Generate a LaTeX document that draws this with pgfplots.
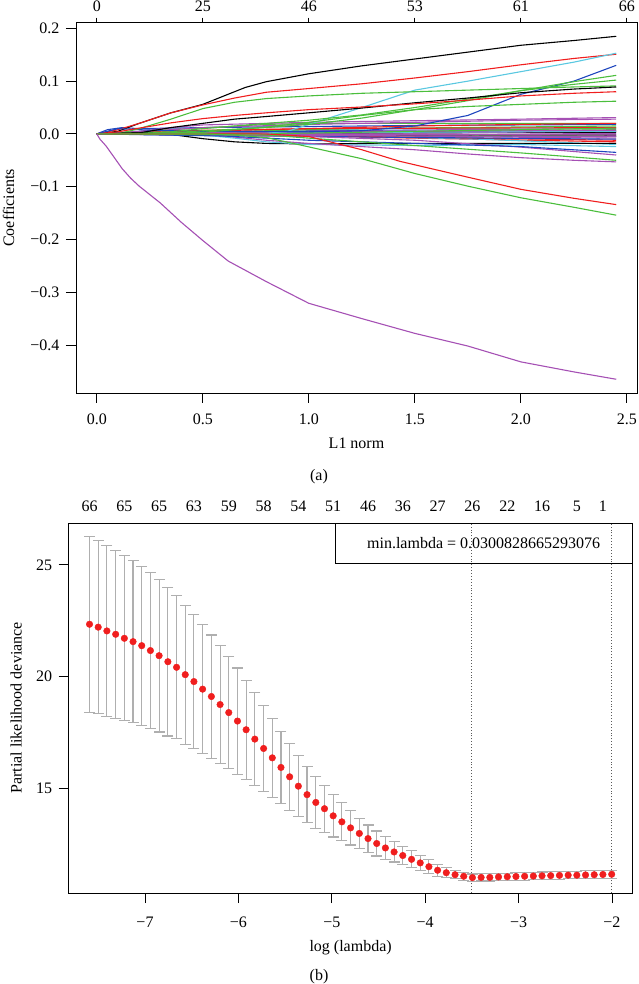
\documentclass[border=0pt]{standalone}
\usepackage{fontspec}
\setmainfont{Liberation Serif}
\usepackage{pgfplots}
\pgfplotsset{compat=1.18}
\usepackage{pgfplotstable}

\definecolor{rblack}{RGB}{0,0,0}
\definecolor{rred}{RGB}{240,30,30}
\definecolor{rgreen}{RGB}{75,190,60}
\definecolor{rblue}{RGB}{30,70,190}
\definecolor{rcyan}{RGB}{90,200,225}
\definecolor{rpurple}{RGB}{165,80,180}
\definecolor{dgrey}{RGB}{175,175,175}
\definecolor{dotgrey}{RGB}{90,90,90}

\pgfplotstableread{
x m e
-7.594 22.34 3.95
-7.501 22.21 3.88
-7.408 22.04 3.82
-7.314 21.89 3.76
-7.221 21.71 3.70
-7.128 21.56 3.63
-7.035 21.38 3.56
-6.942 21.16 3.49
-6.849 20.93 3.42
-6.755 20.66 3.33
-6.662 20.41 3.20
-6.569 20.08 3.12
-6.476 19.77 3.00
-6.383 19.43 2.89
-6.289 19.10 2.76
-6.196 18.74 2.64
-6.103 18.38 2.51
-6.010 18.00 2.38
-5.917 17.61 2.22
-5.824 17.19 2.07
-5.730 16.77 1.92
-5.637 16.35 1.77
-5.544 15.92 1.61
-5.451 15.50 1.50
-5.358 15.08 1.37
-5.265 14.70 1.26
-5.171 14.35 1.15
-5.078 14.07 1.05
-4.985 13.75 0.95
-4.892 13.48 0.85
-4.799 13.21 0.77
-4.705 12.96 0.69
-4.612 12.73 0.61
-4.519 12.51 0.56
-4.426 12.31 0.50
-4.333 12.13 0.45
-4.240 11.97 0.42
-4.146 11.80 0.38
-4.053 11.64 0.34
-3.960 11.47 0.31
-3.867 11.31 0.27
-3.774 11.20 0.22
-3.680 11.11 0.19
-3.587 11.04 0.17
-3.494 10.98 0.16
-3.401 10.99 0.16
-3.308 10.99 0.16
-3.215 11.01 0.16
-3.121 11.02 0.16
-3.028 11.03 0.16
-2.935 11.04 0.17
-2.842 11.05 0.17
-2.749 11.06 0.17
-2.656 11.07 0.17
-2.562 11.08 0.17
-2.469 11.09 0.17
-2.376 11.09 0.17
-2.283 11.10 0.18
-2.190 11.11 0.18
-2.097 11.12 0.18
-2.003 11.13 0.18
}\cvtable

\pgfplotsset{
  rstyle/.style={scale only axis, axis line style={line width=0.9pt},
    tick style={line width=0.9pt, black}, major tick length=10pt, tick align=outside,
    font=\fontsize{16}{19}\selectfont, yticklabel style={xshift=-3pt}},
  cK/.style={rblack, line width=1.1pt, no marks},
  cR/.style={rred, line width=1.1pt, no marks},
  cG/.style={rgreen, line width=1.1pt, no marks},
  cB/.style={rblue, line width=1.1pt, no marks},
  cC/.style={rcyan, line width=1.1pt, no marks},
  cP/.style={rpurple, line width=1.1pt, no marks},
}

\begin{document}
\begin{tikzpicture}
\useasboundingbox (0pt,0pt) rectangle (638pt,984pt);

% ---------------- panel (a) ----------------
\begin{axis}[rstyle, at={(76pt,591pt)}, anchor=south west, width=561pt, height=370.4pt,
  xmin=-0.098, xmax=2.548, ymin=-0.491, ymax=0.211,
  xtick={0,0.5,1,1.5,2,2.5}, xticklabels={0.0,0.5,1.0,1.5,2.0,2.5},
  xticklabel style={yshift=-7pt},
  ytick={-0.4,-0.3,-0.2,-0.1,0,0.1,0.2},
  yticklabels={−0.4,−0.3,−0.2,−0.1,0.0,0.1,0.2},
  xtick pos=lower, ytick pos=left,
  xlabel={L1 norm}, ylabel={Coefficients},
  every axis x label/.style={at={(axis description cs:0.5,-0.135)}, anchor=center},
  every axis y label/.style={at={(axis description cs:-0.12,0.5)}, anchor=center, rotate=90},
]
% near-zero cluster
\addplot[cP] coordinates {(0,0)(0.35,0.002)(1,0.006)(2,0.009)(2.45,0.010)};
\addplot[cC] coordinates {(0,0)(0.5,0.003)(1,0.008)(1.5,0.010)(2.45,0.012)};
\addplot[cG] coordinates {(0,0)(0.6,0.004)(1.2,0.010)(2.45,0.015)};
\addplot[cB] coordinates {(0,0)(0.4,0.003)(1,0.005)(2.45,0.005)};
\addplot[cR] coordinates {(0,0)(0.8,-0.002)(1.5,-0.008)(2.45,-0.015)};
\addplot[cK] coordinates {(0,0)(1.0,0.000)(1.5,-0.003)(2.45,-0.005)};
\addplot[cP] coordinates {(0,0)(0.9,-0.002)(2.45,-0.008)};
\addplot[cG] coordinates {(0,0)(1.0,0.002)(2.45,0.008)};
\addplot[cC] coordinates {(0,0)(0.5,-0.001)(1.2,-0.004)(1.8,-0.010)(2.45,-0.020)};
\addplot[cR] coordinates {(0,0)(1.1,-0.004)(2.45,-0.012)};
\addplot[cB] coordinates {(0,0)(1.3,-0.006)(2.45,-0.010)};
\addplot[cP] coordinates {(0,0)(0.6,0.001)(2.45,0.004)};
\addplot[cK] coordinates {(0,0)(1.4,0.002)(2.45,0.003)};
\addplot[cG] coordinates {(0,0)(1.6,-0.002)(2.45,-0.004)};
\addplot[cR] coordinates {(0,0)(0.35,0.006)(1,0.010)(2.45,0.012)};
\addplot[cP] coordinates {(0,0)(1.7,0.002)(2.45,0.006)};
\addplot[cC] coordinates {(0,0)(0.8,0.002)(2.45,0.005)};
\addplot[cK] coordinates {(0,0)(1.2,-0.001)(2.45,-0.002)};
\addplot[cP] coordinates {(0,0)(1.5,-0.001)(2.45,-0.002)};
\addplot[cP] coordinates {(0,0)(1.8,-0.001)(2.45,0.001)};
\addplot[cP] coordinates {(0,0)(0.7,0.003)(2.45,0.007)};
\addplot[cP] coordinates {(0,0)(1.0,-0.003)(2.45,-0.005)};
\addplot[cG] coordinates {(0,0)(0.9,0.001)(2.45,0.011)};
\addplot[cB] coordinates {(0,0)(0.05,0.008)(0.12,0.012)(0.2,0.010)(0.5,0.012)(1,0.014)(1.5,0.016)(2.45,0.018)};
\addplot[cG] coordinates {(0,0)(0.35,0.008)(0.8,0.018)(1.0,0.020)(1.5,0.020)(2.0,0.020)(2.45,0.020)};
\addplot[cR] coordinates {(0,0)(0.35,0.004)(1.0,0.010)(1.5,0.015)(2.0,0.018)(2.45,0.020)};
\addplot[cP] coordinates {(0,0)(0.2,0.005)(0.35,0.012)(0.5,0.017)(1.0,0.022)(1.5,0.025)(2.0,0.028)(2.45,0.031)};
\addplot[cP] coordinates {(0,0)(0.2,0.004)(0.5,0.012)(1.0,0.018)(1.5,0.022)(2.0,0.026)(2.45,0.028)};
% positive paths
\addplot[cK] coordinates {(0,0)(0.1,0.005)(0.2,0.020)(0.35,0.040)(0.5,0.056)(0.6,0.072)(0.7,0.088)(0.8,0.099)(1.0,0.114)(1.25,0.129)(1.5,0.142)(1.75,0.155)(2.0,0.168)(2.25,0.177)(2.45,0.185)};
\addplot[cR] coordinates {(0,0)(0.1,0.008)(0.2,0.020)(0.35,0.040)(0.5,0.055)(0.65,0.068)(0.8,0.079)(1.0,0.086)(1.25,0.095)(1.5,0.106)(1.75,0.118)(2.0,0.131)(2.25,0.143)(2.45,0.151)};
\addplot[cC] coordinates {(0,0)(0.5,0.000)(0.6,-0.003)(0.75,-0.001)(0.9,0.005)(1.0,0.018)(1.25,0.050)(1.5,0.083)(1.75,0.100)(2.0,0.118)(2.25,0.136)(2.45,0.153)};
\addplot[cB] coordinates {(0,0)(0.1,0.010)(0.2,0.008)(0.35,0.006)(0.5,0.005)(1.0,0.004)(1.25,0.006)(1.5,0.015)(1.75,0.035)(2.0,0.075)(2.25,0.100)(2.45,0.130)};
\addplot[cG] coordinates {(0,0)(0.1,0.000)(0.2,0.010)(0.35,0.028)(0.5,0.048)(0.65,0.060)(0.8,0.067)(1.0,0.072)(1.25,0.077)(1.5,0.080)(1.75,0.083)(2.0,0.086)(2.25,0.089)(2.45,0.091)};
\addplot[cG] coordinates {(0,0)(0.35,0.002)(0.5,0.006)(0.8,0.012)(1.0,0.018)(1.25,0.030)(1.5,0.046)(1.75,0.063)(2.0,0.082)(2.25,0.099)(2.45,0.111)};
\addplot[cG] coordinates {(0,0)(0.35,0.004)(0.5,0.010)(0.8,0.020)(1.0,0.026)(1.25,0.036)(1.5,0.050)(1.75,0.066)(2.0,0.082)(2.25,0.094)(2.45,0.102)};
\addplot[cK] coordinates {(0,0)(0.2,0.002)(0.35,0.012)(0.5,0.020)(0.65,0.028)(0.8,0.033)(1.0,0.040)(1.25,0.049)(1.5,0.059)(1.75,0.068)(2.0,0.078)(2.25,0.085)(2.45,0.089)};
\addplot[cR] coordinates {(0,0)(0.1,0.004)(0.2,0.011)(0.35,0.021)(0.5,0.029)(0.65,0.035)(0.8,0.040)(1.0,0.046)(1.25,0.051)(1.5,0.057)(1.75,0.064)(2.0,0.072)(2.25,0.077)(2.45,0.080)};
\addplot[cG] coordinates {(0,0)(0.5,0.003)(0.8,0.013)(1.0,0.022)(1.25,0.035)(1.5,0.046)(1.75,0.052)(2.0,0.056)(2.25,0.060)(2.45,0.062)};
% negative paths
\addplot[cK] coordinates {(0,0)(0.2,0.002)(0.35,-0.001)(0.5,-0.009)(0.65,-0.015)(0.8,-0.018)(1.0,-0.019)(1.5,-0.018)(2.0,-0.018)(2.45,-0.018)};
\addplot[cC] coordinates {(0,0)(0.5,-0.002)(0.65,-0.008)(0.8,-0.015)(1.0,-0.020)(1.5,-0.022)(2.0,-0.020)(2.45,-0.024)};
\addplot[cP] coordinates {(0,0)(0.5,0.000)(0.65,-0.006)(0.8,-0.012)(1.0,-0.018)(1.25,-0.024)(1.5,-0.030)(1.75,-0.038)(2.0,-0.045)(2.25,-0.050)(2.45,-0.053)};
\addplot[cP] coordinates {(0,0)(1.0,-0.005)(1.5,-0.012)(2.0,-0.025)(2.45,-0.040)};
\addplot[cB] coordinates {(0,0)(0.6,-0.004)(1.0,-0.012)(1.5,-0.018)(2.0,-0.024)(2.45,-0.035)};
\addplot[cG] coordinates {(0,0)(0.8,-0.002)(1.0,-0.008)(1.5,-0.022)(2.0,-0.036)(2.45,-0.050)};
\addplot[cR] coordinates {(0,0)(0.65,0.000)(0.8,0.000)(1.0,-0.005)(1.25,-0.030)(1.43,-0.052)(1.75,-0.082)(2.0,-0.105)(2.25,-0.122)(2.45,-0.134)};
\addplot[cG] coordinates {(0,0)(0.5,0.000)(0.65,-0.002)(0.8,-0.007)(0.96,-0.021)(1.25,-0.047)(1.5,-0.075)(1.75,-0.099)(2.0,-0.121)(2.25,-0.139)(2.45,-0.154)};
\addplot[cP] coordinates {(0,0)(0.015,-0.010)(0.044,-0.023)(0.083,-0.045)(0.12,-0.066)(0.16,-0.084)(0.2,-0.099)(0.3,-0.131)(0.4,-0.168)(0.5,-0.202)(0.62,-0.241)(0.8,-0.280)(1.0,-0.321)(1.25,-0.350)(1.5,-0.378)(1.75,-0.402)(2.0,-0.432)(2.25,-0.451)(2.45,-0.465)};
\end{axis}
\begin{axis}[rstyle, at={(76pt,591pt)}, anchor=south west, width=561pt, height=370.4pt,
  xmin=-0.098, xmax=2.548, ymin=-0.491, ymax=0.211,
  axis x line*=top, hide y axis, major tick length=5pt,
  xtick={0,0.5,1,1.5,2,2.5}, xticklabels={0,25,46,53,61,66},
  xticklabel style={yshift=2pt}]
\end{axis}
\node at (319pt,507pt) {\fontsize{16}{19}\selectfont (a)};

% ---------------- panel (b) ----------------
\begin{axis}[rstyle, at={(68.6pt,91pt)}, anchor=south west, width=564pt, height=370pt,
  xmin=-7.818, xmax=-1.779, ymin=10.29, ymax=26.88,
  xtick={-7,-6,-5,-4,-3,-2}, xticklabels={−7,−6,−5,−4,−3,−2},
  xticklabel style={yshift=-10pt},
  ytick={15,20,25}, yticklabels={15,20,25},
  xtick pos=lower, ytick pos=left,
  xlabel={log (lambda)}, ylabel={Partial likelihood deviance},
  every axis x label/.style={at={(axis description cs:0.5,-0.148)}, anchor=center},
  every axis y label/.style={at={(axis description cs:-0.093,0.5)}, anchor=center, rotate=90},
]
% error bars: vertical segments and caps
\addplot[dgrey, line width=1.1pt, only marks, mark=none,
  error bars/.cd, y dir=both, y explicit, error mark=none,
  error bar style={dgrey, line width=1.1pt}]
  table[x=x, y=m, y error=e] {\cvtable};
\addplot[only marks, mark=-, mark size=5.5pt, mark options={dgrey, line width=1.1pt}]
  table[x=x, y expr=\thisrow{m}+\thisrow{e}] {\cvtable};
\addplot[only marks, mark=-, mark size=5.5pt, mark options={dgrey, line width=1.1pt}]
  table[x=x, y expr=\thisrow{m}-\thisrow{e}] {\cvtable};
\addplot[only marks, mark=*, mark size=3.3pt, mark options={fill=rred, draw=rred}]
  table[x=x, y=m] {\cvtable};
\node[draw, line width=0.9pt, anchor=north east, minimum width=297pt, minimum height=40pt, inner sep=0pt]
  at (rel axis cs:1,1) {min.lambda = 0.0300828665293076};
\addplot[dotgrey, line width=0.9pt, dotted] coordinates {(-3.5037,10.29)(-3.5037,26.88)};
\addplot[dotgrey, line width=0.9pt, dotted] coordinates {(-2.003,10.29)(-2.003,26.88)};
\end{axis}
\begin{axis}[rstyle, at={(68.6pt,91pt)}, anchor=south west, width=564pt, height=370pt,
  xmin=-7.818, xmax=-1.779, ymin=10.29, ymax=26.88,
  axis x line*=top, hide y axis, major tick length=0pt,
  xtick={-7.594,-7.221,-6.849,-6.476,-6.103,-5.730,-5.358,-4.985,-4.612,-4.240,-3.867,-3.494,-3.121,-2.749,-2.376,-2.097},
  xticklabels={66,65,65,63,59,58,54,51,46,36,27,26,22,16,5,1},
  xticklabel style={yshift=8pt}]
\end{axis}
\node at (319pt,7pt) {\fontsize{16}{19}\selectfont (b)};
\end{tikzpicture}
\end{document}
